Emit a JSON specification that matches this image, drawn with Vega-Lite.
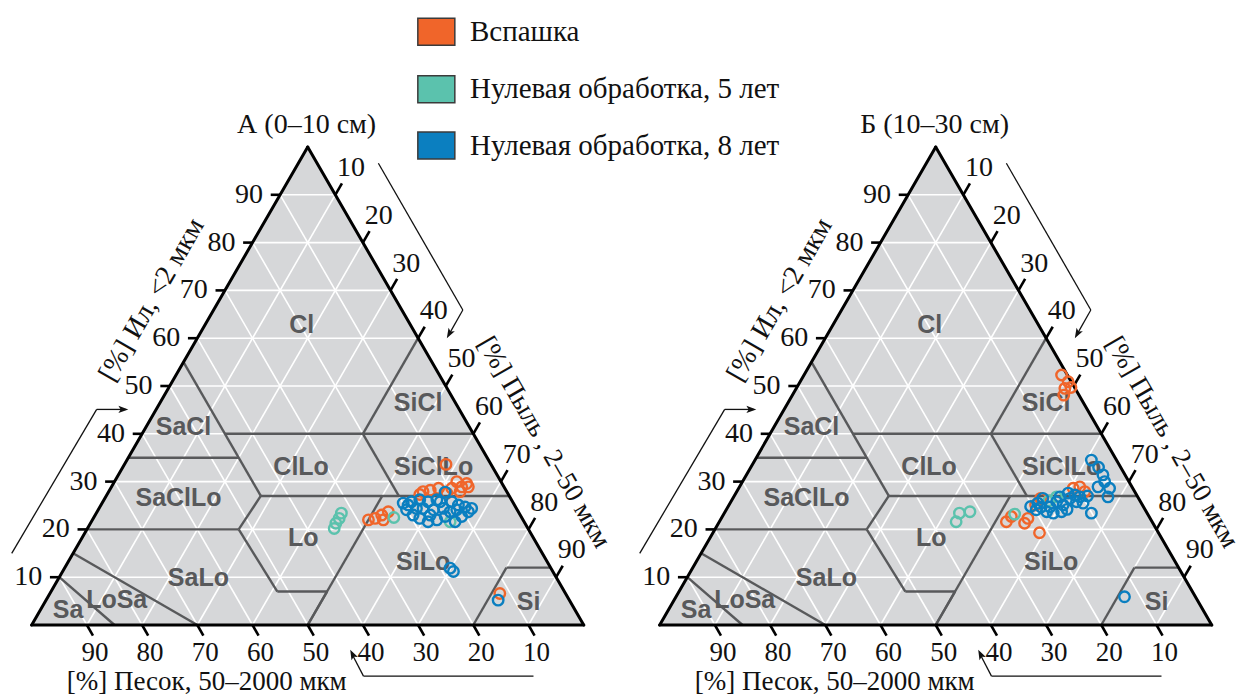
{
"$schema": "https://vega.github.io/schema/vega-lite/v6.json",
"padding": 0,
"spacing": 10,
"bounds": "flush",
"background": "white",
"config": {"view": {"stroke": null}},
"datasets": {
"tri": [{"x":0,"y":0},{"x":50,"y":100},{"x":100,"y":0}],
"edges": [{"x":0,"y":0,"x2":50,"y2":100},{"x":50,"y":100,"x2":100,"y2":0},{"x":0,"y":0,"x2":100,"y2":0}],
"grid": [
{"x":5,"y":10,"x2":95,"y2":10},{"x":10,"y":20,"x2":90,"y2":20},{"x":15,"y":30,"x2":85,"y2":30},{"x":20,"y":40,"x2":80,"y2":40},{"x":25,"y":50,"x2":75,"y2":50},{"x":30,"y":60,"x2":70,"y2":60},{"x":35,"y":70,"x2":65,"y2":70},{"x":40,"y":80,"x2":60,"y2":80},{"x":45,"y":90,"x2":55,"y2":90},
{"x":10,"y":0,"x2":55,"y2":90},{"x":20,"y":0,"x2":60,"y2":80},{"x":30,"y":0,"x2":65,"y2":70},{"x":40,"y":0,"x2":70,"y2":60},{"x":50,"y":0,"x2":75,"y2":50},{"x":60,"y":0,"x2":80,"y2":40},{"x":70,"y":0,"x2":85,"y2":30},{"x":80,"y":0,"x2":90,"y2":20},{"x":90,"y":0,"x2":95,"y2":10},
{"x":90,"y":0,"x2":45,"y2":90},{"x":80,"y":0,"x2":40,"y2":80},{"x":70,"y":0,"x2":35,"y2":70},{"x":60,"y":0,"x2":30,"y2":60},{"x":50,"y":0,"x2":25,"y2":50},{"x":40,"y":0,"x2":20,"y2":40},{"x":30,"y":0,"x2":15,"y2":30},{"x":20,"y":0,"x2":10,"y2":20},{"x":10,"y":0,"x2":5,"y2":10}
],
"bounds": [
{"x":5,"y":10,"x2":15,"y2":0},{"x":7.5,"y":15,"x2":30,"y2":0},{"x":10,"y":20,"x2":37.5,"y2":20},{"x":37.5,"y":20,"x2":44.5,"y2":7},{"x":44.5,"y":7,"x2":53.5,"y2":7},{"x":53.5,"y":7,"x2":50,"y2":0},{"x":50,"y":0,"x2":63.5,"y2":27},{"x":41.5,"y":27,"x2":86.5,"y2":27},{"x":41.5,"y":27,"x2":37.5,"y2":20},{"x":41.5,"y":27,"x2":27.5,"y2":55},{"x":17.5,"y":35,"x2":37.5,"y2":35},{"x":35,"y":40,"x2":80,"y2":40},{"x":66.5,"y":27,"x2":60,"y2":40},{"x":60,"y":40,"x2":70,"y2":60},{"x":80,"y":0,"x2":86,"y2":12},{"x":86,"y":12,"x2":94,"y2":12}
],
"ticks": [
{"axis":"clay","label":"10","x":5,"y":10,"x2":3.3,"y2":10,"lx":1.9,"ly":10},
{"axis":"clay","label":"20","x":10,"y":20,"x2":8.3,"y2":20,"lx":6.9,"ly":20},
{"axis":"clay","label":"30","x":15,"y":30,"x2":13.3,"y2":30,"lx":11.9,"ly":30},
{"axis":"clay","label":"40","x":20,"y":40,"x2":18.3,"y2":40,"lx":16.9,"ly":40},
{"axis":"clay","label":"50","x":25,"y":50,"x2":23.3,"y2":50,"lx":21.9,"ly":50},
{"axis":"clay","label":"60","x":30,"y":60,"x2":28.3,"y2":60,"lx":26.9,"ly":60},
{"axis":"clay","label":"70","x":35,"y":70,"x2":33.3,"y2":70,"lx":31.9,"ly":70},
{"axis":"clay","label":"80","x":40,"y":80,"x2":38.3,"y2":80,"lx":36.9,"ly":80},
{"axis":"clay","label":"90","x":45,"y":90,"x2":43.3,"y2":90,"lx":41.9,"ly":90},
{"axis":"silt","label":"10","x":55,"y":90,"x2":56.2,"y2":92.4,"lx":57.85,"ly":95.6},
{"axis":"silt","label":"20","x":60,"y":80,"x2":61.2,"y2":82.4,"lx":62.85,"ly":85.6},
{"axis":"silt","label":"30","x":65,"y":70,"x2":66.2,"y2":72.4,"lx":67.85,"ly":75.6},
{"axis":"silt","label":"40","x":70,"y":60,"x2":71.2,"y2":62.4,"lx":72.85,"ly":65.6},
{"axis":"silt","label":"50","x":75,"y":50,"x2":76.2,"y2":52.4,"lx":77.85,"ly":55.6},
{"axis":"silt","label":"60","x":80,"y":40,"x2":81.2,"y2":42.4,"lx":82.85,"ly":45.6},
{"axis":"silt","label":"70","x":85,"y":30,"x2":86.2,"y2":32.4,"lx":87.85,"ly":35.6},
{"axis":"silt","label":"80","x":90,"y":20,"x2":91.2,"y2":22.4,"lx":92.85,"ly":25.6},
{"axis":"silt","label":"90","x":95,"y":10,"x2":96.2,"y2":12.4,"lx":97.85,"ly":15.6},
{"axis":"sand","label":"90","x":10,"y":0,"x2":11.1,"y2":-2.2,"lx":11.45,"ly":-5.9},
{"axis":"sand","label":"80","x":20,"y":0,"x2":21.1,"y2":-2.2,"lx":21.45,"ly":-5.9},
{"axis":"sand","label":"70","x":30,"y":0,"x2":31.1,"y2":-2.2,"lx":31.45,"ly":-5.9},
{"axis":"sand","label":"60","x":40,"y":0,"x2":41.1,"y2":-2.2,"lx":41.45,"ly":-5.9},
{"axis":"sand","label":"50","x":50,"y":0,"x2":51.1,"y2":-2.2,"lx":51.45,"ly":-5.9},
{"axis":"sand","label":"40","x":60,"y":0,"x2":61.1,"y2":-2.2,"lx":61.45,"ly":-5.9},
{"axis":"sand","label":"30","x":70,"y":0,"x2":71.1,"y2":-2.2,"lx":71.45,"ly":-5.9},
{"axis":"sand","label":"20","x":80,"y":0,"x2":81.1,"y2":-2.2,"lx":81.45,"ly":-5.9},
{"axis":"sand","label":"10","x":90,"y":0,"x2":91.1,"y2":-2.2,"lx":91.45,"ly":-5.9}
],
"regions": [
{"t":"Cl","x":48.9,"y":62.8},{"t":"SiCl","x":70.0,"y":46.4},{"t":"SaCl","x":27.5,"y":41.5},{"t":"ClLo","x":48.8,"y":33.1},{"t":"SiClLo","x":72.8,"y":33.1},{"t":"SaClLo","x":26.6,"y":26.5},{"t":"Lo","x":49.2,"y":18.1},{"t":"SiLo","x":70.9,"y":13.2},{"t":"SaLo","x":30.2,"y":9.8},{"t":"LoSa","x":15.4,"y":5.2},{"t":"Sa","x":6.6,"y":3.1},{"t":"Si","x":90.0,"y":4.9}
],
"arrows": [
{"x":-3.62,"y":15.0,"x2":11.77,"y2":45.1},{"x":11.77,"y":45.1,"x2":17.0,"y2":45.1},
{"x":62.8,"y":96.6,"x2":78.1,"y2":65.9},{"x":78.1,"y":65.9,"x2":75.6,"y2":60.8},
{"x":90.9,"y":-10.7,"x2":60.1,"y2":-10.7},{"x":60.1,"y":-10.7,"x2":58.0,"y2":-6.0}
],
"heads": [
{"dir":"clay","x":17.5,"y":45.1},{"dir":"silt","x":75.2,"y":60.0},{"dir":"sand","x":57.7,"y":-5.2}
],
"atitles": [
{"kind":"clay","t":"[%] Ил, <2 мкм","x":21.8,"y":68.0},
{"kind":"silt","t":"[%] Пыль , 2–50 мкм","x":92.8,"y":38.2},
{"kind":"sand","t":"[%] Песок, 50–2000 мкм","x":31.7,"y":-11.95}
],
"ptitles": [
{"panel":"A","t":"А (0–10 см)","x":49.8,"y":104.6},
{"panel":"B","t":"Б (10–30 см)","x":49.8,"y":104.6}
],
"legend": [
{"grp":"Вспашка","x":73.3,"y":124.1,"tx":79.4},
{"grp":"Нулевая обработка, 5 лет","x":73.3,"y":112.1,"tx":79.4},
{"grp":"Нулевая обработка, 8 лет","x":73.3,"y":100.3,"tx":79.4}
],
"pts": [
{"panel":"A","grp":"Вспашка","x":75.05,"y":33.6},{"panel":"A","grp":"Вспашка","x":78.8,"y":29.6},{"panel":"A","grp":"Вспашка","x":77.9,"y":28.9},{"panel":"A","grp":"Вспашка","x":77.0,"y":30.0},{"panel":"A","grp":"Вспашка","x":76.1,"y":28.6},{"panel":"A","grp":"Вспашка","x":75.2,"y":27.6},{"panel":"A","grp":"Вспашка","x":73.7,"y":28.6},{"panel":"A","grp":"Вспашка","x":72.2,"y":28.2},{"panel":"A","grp":"Вспашка","x":70.9,"y":27.9},{"panel":"A","grp":"Вспашка","x":70.3,"y":27.3},{"panel":"A","grp":"Вспашка","x":77.6,"y":27.9},{"panel":"A","grp":"Вспашка","x":79.1,"y":28.9},{"panel":"A","grp":"Вспашка","x":61.0,"y":22.0},{"panel":"A","grp":"Вспашка","x":62.2,"y":22.3},{"panel":"A","grp":"Вспашка","x":63.4,"y":23.0},{"panel":"A","grp":"Вспашка","x":64.6,"y":23.7},{"panel":"A","grp":"Вспашка","x":63.7,"y":22.0},{"panel":"A","grp":"Вспашка","x":84.8,"y":6.6},
{"panel":"A","grp":"Нулевая обработка, 5 лет","x":56.1,"y":23.4},{"panel":"A","grp":"Нулевая обработка, 5 лет","x":55.7,"y":22.3},{"panel":"A","grp":"Нулевая обработка, 5 лет","x":55.1,"y":21.3},{"panel":"A","grp":"Нулевая обработка, 5 лет","x":54.8,"y":20.2},{"panel":"A","grp":"Нулевая обработка, 5 лет","x":65.6,"y":22.5},{"panel":"A","grp":"Нулевая обработка, 5 лет","x":75.8,"y":21.6},
{"panel":"A","grp":"Нулевая обработка, 8 лет","x":67.3,"y":25.5},{"panel":"A","grp":"Нулевая обработка, 8 лет","x":68.8,"y":25.8},{"panel":"A","grp":"Нулевая обработка, 8 лет","x":70.3,"y":26.2},{"panel":"A","grp":"Нулевая обработка, 8 лет","x":71.8,"y":25.8},{"panel":"A","grp":"Нулевая обработка, 8 лет","x":73.4,"y":26.2},{"panel":"A","grp":"Нулевая обработка, 8 лет","x":74.9,"y":27.8},{"panel":"A","grp":"Нулевая обработка, 8 лет","x":76.1,"y":25.8},{"panel":"A","grp":"Нулевая обработка, 8 лет","x":77.3,"y":25.1},{"panel":"A","grp":"Нулевая обработка, 8 лет","x":79.7,"y":24.4},{"panel":"A","grp":"Нулевая обработка, 8 лет","x":78.5,"y":24.7},{"panel":"A","grp":"Нулевая обработка, 8 лет","x":67.9,"y":24.1},{"panel":"A","grp":"Нулевая обработка, 8 лет","x":69.1,"y":23.0},{"panel":"A","grp":"Нулевая обработка, 8 лет","x":70.3,"y":22.3},{"panel":"A","grp":"Нулевая обработка, 8 лет","x":71.8,"y":21.6},{"panel":"A","grp":"Нулевая обработка, 8 лет","x":73.4,"y":22.0},{"panel":"A","grp":"Нулевая обработка, 8 лет","x":74.9,"y":22.7},{"panel":"A","grp":"Нулевая обработка, 8 лет","x":76.7,"y":21.6},{"panel":"A","grp":"Нулевая обработка, 8 лет","x":77.9,"y":22.7},{"panel":"A","grp":"Нулевая обработка, 8 лет","x":79.1,"y":23.7},{"panel":"A","grp":"Нулевая обработка, 8 лет","x":70.9,"y":24.4},{"panel":"A","grp":"Нулевая обработка, 8 лет","x":72.8,"y":24.1},{"panel":"A","grp":"Нулевая обработка, 8 лет","x":74.6,"y":24.4},{"panel":"A","grp":"Нулевая обработка, 8 лет","x":75.8,"y":23.7},{"panel":"A","grp":"Нулевая обработка, 8 лет","x":69.7,"y":24.4},{"panel":"A","grp":"Нулевая обработка, 8 лет","x":74.0,"y":25.8},{"panel":"A","grp":"Нулевая обработка, 8 лет","x":72.2,"y":23.0},{"panel":"A","grp":"Нулевая обработка, 8 лет","x":68.2,"y":25.1},{"panel":"A","grp":"Нулевая обработка, 8 лет","x":77.0,"y":24.1},{"panel":"A","grp":"Нулевая обработка, 8 лет","x":75.8,"y":11.9},{"panel":"A","grp":"Нулевая обработка, 8 лет","x":76.4,"y":11.2},{"panel":"A","grp":"Нулевая обработка, 8 лет","x":84.5,"y":5.2},
{"panel":"B","grp":"Вспашка","x":72.8,"y":52.3},{"panel":"B","grp":"Вспашка","x":74.0,"y":50.9},{"panel":"B","grp":"Вспашка","x":73.4,"y":49.5},{"panel":"B","grp":"Вспашка","x":74.5,"y":49.7},{"panel":"B","grp":"Вспашка","x":73.2,"y":48.1},{"panel":"B","grp":"Вспашка","x":62.8,"y":21.6},{"panel":"B","grp":"Вспашка","x":63.7,"y":22.7},{"panel":"B","grp":"Вспашка","x":66.1,"y":21.3},{"panel":"B","grp":"Вспашка","x":66.7,"y":22.3},{"panel":"B","grp":"Вспашка","x":68.8,"y":19.3},{"panel":"B","grp":"Вспашка","x":68.1,"y":25.1},{"panel":"B","grp":"Вспашка","x":69.0,"y":26.5},{"panel":"B","grp":"Вспашка","x":74.9,"y":28.6},{"panel":"B","grp":"Вспашка","x":76.1,"y":28.9},{"panel":"B","grp":"Вспашка","x":77.0,"y":27.9},
{"panel":"B","grp":"Нулевая обработка, 5 лет","x":54.3,"y":23.4},{"panel":"B","grp":"Нулевая обработка, 5 лет","x":56.2,"y":23.7},{"panel":"B","grp":"Нулевая обработка, 5 лет","x":53.7,"y":21.6},{"panel":"B","grp":"Нулевая обработка, 5 лет","x":64.3,"y":23.2},{"panel":"B","grp":"Нулевая обработка, 5 лет","x":71.9,"y":26.8},{"panel":"B","grp":"Нулевая обработка, 5 лет","x":70.5,"y":26.0},
{"panel":"B","grp":"Нулевая обработка, 8 лет","x":78.2,"y":34.5},{"panel":"B","grp":"Нулевая обработка, 8 лет","x":79.5,"y":33.0},{"panel":"B","grp":"Нулевая обработка, 8 лет","x":80.3,"y":31.4},{"panel":"B","grp":"Нулевая обработка, 8 лет","x":81.5,"y":28.6},{"panel":"B","grp":"Нулевая обработка, 8 лет","x":81.2,"y":26.8},{"panel":"B","grp":"Нулевая обработка, 8 лет","x":79.4,"y":28.9},{"panel":"B","grp":"Нулевая обработка, 8 лет","x":80.6,"y":30.0},{"panel":"B","grp":"Нулевая обработка, 8 лет","x":78.2,"y":23.4},{"panel":"B","grp":"Нулевая обработка, 8 лет","x":76.7,"y":25.5},{"panel":"B","grp":"Нулевая обработка, 8 лет","x":77.5,"y":27.0},{"panel":"B","grp":"Нулевая обработка, 8 лет","x":68.5,"y":25.5},{"panel":"B","grp":"Нулевая обработка, 8 лет","x":69.4,"y":26.5},{"panel":"B","grp":"Нулевая обработка, 8 лет","x":70.7,"y":24.7},{"panel":"B","grp":"Нулевая обработка, 8 лет","x":71.9,"y":25.8},{"panel":"B","grp":"Нулевая обработка, 8 лет","x":73.1,"y":25.1},{"panel":"B","grp":"Нулевая обработка, 8 лет","x":74.3,"y":26.5},{"panel":"B","grp":"Нулевая обработка, 8 лет","x":75.5,"y":25.8},{"panel":"B","grp":"Нулевая обработка, 8 лет","x":74.0,"y":27.6},{"panel":"B","grp":"Нулевая обработка, 8 лет","x":75.2,"y":27.2},{"panel":"B","grp":"Нулевая обработка, 8 лет","x":68.2,"y":24.1},{"panel":"B","grp":"Нулевая обработка, 8 лет","x":71.3,"y":23.4},{"panel":"B","grp":"Нулевая обработка, 8 лет","x":72.8,"y":23.7},{"panel":"B","grp":"Нулевая обработка, 8 лет","x":70.1,"y":23.7},{"panel":"B","grp":"Нулевая обработка, 8 лет","x":69.1,"y":24.7},{"panel":"B","grp":"Нулевая обработка, 8 лет","x":76.1,"y":26.8},{"panel":"B","grp":"Нулевая обработка, 8 лет","x":72.5,"y":26.8},{"panel":"B","grp":"Нулевая обработка, 8 лет","x":73.8,"y":24.2},{"panel":"B","grp":"Нулевая обработка, 8 лет","x":67.2,"y":24.8},{"panel":"B","grp":"Нулевая обработка, 8 лет","x":84.2,"y":5.9}
]
},
"hconcat": [
{
"width": 618, "height": 696,
"layer": [
{"data":{"name":"tri"},"mark":{"type":"area","color":"#d6d7d9","opacity":1},"encoding":{"x":{"field":"x","type":"quantitative","scale":{"domain":[-5.743,106.21],"nice":false,"zero":false},"axis":null},"y":{"field":"y","type":"quantitative","scale":{"domain":[-14.85,130.75],"nice":false,"zero":false},"axis":null},"y2":{"datum":0}}},
{"data":{"name":"grid"},"mark":{"type":"rule","color":"#ffffff","strokeWidth":1.6},"encoding":{"x":{"field":"x","type":"quantitative"},"y":{"field":"y","type":"quantitative"},"x2":{"field":"x2"},"y2":{"field":"y2"}}},
{"data":{"name":"bounds"},"mark":{"type":"rule","color":"#58595b","strokeWidth":2.4},"encoding":{"x":{"field":"x","type":"quantitative"},"y":{"field":"y","type":"quantitative"},"x2":{"field":"x2"},"y2":{"field":"y2"}}},
{"data":{"name":"edges"},"mark":{"type":"rule","color":"#000000","strokeWidth":3,"strokeCap":"round"},"encoding":{"x":{"field":"x","type":"quantitative"},"y":{"field":"y","type":"quantitative"},"x2":{"field":"x2"},"y2":{"field":"y2"}}},
{"data":{"name":"ticks"},"mark":{"type":"rule","color":"#000000","strokeWidth":2.6},"encoding":{"x":{"field":"x","type":"quantitative"},"y":{"field":"y","type":"quantitative"},"x2":{"field":"x2"},"y2":{"field":"y2"}}},
{"data":{"name":"ticks"},"transform":[{"filter":"datum.axis === 'clay'"}],"mark":{"type":"text","align":"right","baseline":"middle","font":"Liberation Serif","fontSize":28,"color":"#111111"},"encoding":{"x":{"field":"lx","type":"quantitative"},"y":{"field":"ly","type":"quantitative"},"text":{"field":"label"}}},
{"data":{"name":"ticks"},"transform":[{"filter":"datum.axis === 'silt'"}],"mark":{"type":"text","align":"center","baseline":"middle","font":"Liberation Serif","fontSize":28,"color":"#111111"},"encoding":{"x":{"field":"lx","type":"quantitative"},"y":{"field":"ly","type":"quantitative"},"text":{"field":"label"}}},
{"data":{"name":"ticks"},"transform":[{"filter":"datum.axis === 'sand'"}],"mark":{"type":"text","align":"center","baseline":"middle","font":"Liberation Serif","fontSize":27,"color":"#111111"},"encoding":{"x":{"field":"lx","type":"quantitative"},"y":{"field":"ly","type":"quantitative"},"text":{"field":"label"}}},
{"data":{"name":"regions"},"mark":{"type":"text","align":"center","baseline":"middle","font":"Liberation Sans","fontWeight":"bold","fontSize":25,"color":"#58595b"},"encoding":{"x":{"field":"x","type":"quantitative"},"y":{"field":"y","type":"quantitative"},"text":{"field":"t"}}},
{"data":{"name":"arrows"},"mark":{"type":"rule","color":"#111111","strokeWidth":1.3},"encoding":{"x":{"field":"x","type":"quantitative"},"y":{"field":"y","type":"quantitative"},"x2":{"field":"x2"},"y2":{"field":"y2"}}},
{"data":{"name":"heads"},"transform":[{"filter":"datum.dir === 'clay'"}],"mark":{"type":"point","shape":"M0,0L0.4,1.1L0,0.85L-0.4,1.1Z","angle":90,"filled":true,"color":"#111111","size":324,"opacity":1},"encoding":{"x":{"field":"x","type":"quantitative"},"y":{"field":"y","type":"quantitative"}}},
{"data":{"name":"heads"},"transform":[{"filter":"datum.dir === 'silt'"}],"mark":{"type":"point","shape":"M0,0L0.4,1.1L0,0.85L-0.4,1.1Z","angle":209.5,"filled":true,"color":"#111111","size":324,"opacity":1},"encoding":{"x":{"field":"x","type":"quantitative"},"y":{"field":"y","type":"quantitative"}}},
{"data":{"name":"heads"},"transform":[{"filter":"datum.dir === 'sand'"}],"mark":{"type":"point","shape":"M0,0L0.4,1.1L0,0.85L-0.4,1.1Z","angle":333,"filled":true,"color":"#111111","size":324,"opacity":1},"encoding":{"x":{"field":"x","type":"quantitative"},"y":{"field":"y","type":"quantitative"}}},
{"data":{"name":"atitles"},"transform":[{"filter":"datum.kind === 'clay'"}],"mark":{"type":"text","align":"center","baseline":"middle","angle":300,"font":"Liberation Serif","fontSize":28,"color":"#111111"},"encoding":{"x":{"field":"x","type":"quantitative"},"y":{"field":"y","type":"quantitative"},"text":{"field":"t"}}},
{"data":{"name":"atitles"},"transform":[{"filter":"datum.kind === 'silt'"}],"mark":{"type":"text","align":"center","baseline":"middle","angle":60,"font":"Liberation Serif","fontSize":27,"color":"#111111"},"encoding":{"x":{"field":"x","type":"quantitative"},"y":{"field":"y","type":"quantitative"},"text":{"field":"t"}}},
{"data":{"name":"atitles"},"transform":[{"filter":"datum.kind === 'sand'"}],"mark":{"type":"text","align":"center","baseline":"middle","font":"Liberation Serif","fontSize":27,"color":"#111111"},"encoding":{"x":{"field":"x","type":"quantitative"},"y":{"field":"y","type":"quantitative"},"text":{"field":"t"}}},
{"data":{"name":"ptitles"},"transform":[{"filter":"datum.panel === 'A'"}],"mark":{"type":"text","align":"center","baseline":"middle","font":"Liberation Serif","fontSize":28,"color":"#111111"},"encoding":{"x":{"field":"x","type":"quantitative"},"y":{"field":"y","type":"quantitative"},"text":{"field":"t"}}},
{"data":{"name":"pts"},"transform":[{"filter":"datum.panel === 'A'"}],"mark":{"type":"point","shape":"circle","filled":false,"strokeWidth":2.4,"size":110,"opacity":1},"encoding":{"x":{"field":"x","type":"quantitative"},"y":{"field":"y","type":"quantitative"},"color":{"field":"grp","type":"nominal","scale":{"domain":["Вспашка","Нулевая обработка, 5 лет","Нулевая обработка, 8 лет"],"range":["#f0652a","#5bc2ad","#0b7fc0"]},"legend":null}}},
{"data":{"name":"legend"},"mark":{"type":"point","shape":"M-1,-0.73H1V0.73H-1Z","filled":true,"size":1369,"stroke":"#3b3b3b","strokeWidth":1.5,"opacity":1},"encoding":{"x":{"field":"x","type":"quantitative"},"y":{"field":"y","type":"quantitative"},"color":{"field":"grp","type":"nominal","scale":{"domain":["Вспашка","Нулевая обработка, 5 лет","Нулевая обработка, 8 лет"],"range":["#f0652a","#5bc2ad","#0b7fc0"]},"legend":null}}},
{"data":{"name":"legend"},"mark":{"type":"text","align":"left","baseline":"middle","font":"Liberation Serif","fontSize":29,"color":"#111111"},"encoding":{"x":{"field":"tx","type":"quantitative"},"y":{"field":"y","type":"quantitative"},"text":{"field":"grp"}}}
]
},
{
"width": 618, "height": 696,
"layer": [
{"data":{"name":"tri"},"mark":{"type":"area","color":"#d6d7d9","opacity":1},"encoding":{"x":{"field":"x","type":"quantitative","scale":{"domain":[-5.743,106.21],"nice":false,"zero":false},"axis":null},"y":{"field":"y","type":"quantitative","scale":{"domain":[-14.85,130.75],"nice":false,"zero":false},"axis":null},"y2":{"datum":0}}},
{"data":{"name":"grid"},"mark":{"type":"rule","color":"#ffffff","strokeWidth":1.6},"encoding":{"x":{"field":"x","type":"quantitative"},"y":{"field":"y","type":"quantitative"},"x2":{"field":"x2"},"y2":{"field":"y2"}}},
{"data":{"name":"bounds"},"mark":{"type":"rule","color":"#58595b","strokeWidth":2.4},"encoding":{"x":{"field":"x","type":"quantitative"},"y":{"field":"y","type":"quantitative"},"x2":{"field":"x2"},"y2":{"field":"y2"}}},
{"data":{"name":"edges"},"mark":{"type":"rule","color":"#000000","strokeWidth":3,"strokeCap":"round"},"encoding":{"x":{"field":"x","type":"quantitative"},"y":{"field":"y","type":"quantitative"},"x2":{"field":"x2"},"y2":{"field":"y2"}}},
{"data":{"name":"ticks"},"mark":{"type":"rule","color":"#000000","strokeWidth":2.6},"encoding":{"x":{"field":"x","type":"quantitative"},"y":{"field":"y","type":"quantitative"},"x2":{"field":"x2"},"y2":{"field":"y2"}}},
{"data":{"name":"ticks"},"transform":[{"filter":"datum.axis === 'clay'"}],"mark":{"type":"text","align":"right","baseline":"middle","font":"Liberation Serif","fontSize":28,"color":"#111111"},"encoding":{"x":{"field":"lx","type":"quantitative"},"y":{"field":"ly","type":"quantitative"},"text":{"field":"label"}}},
{"data":{"name":"ticks"},"transform":[{"filter":"datum.axis === 'silt'"}],"mark":{"type":"text","align":"center","baseline":"middle","font":"Liberation Serif","fontSize":28,"color":"#111111"},"encoding":{"x":{"field":"lx","type":"quantitative"},"y":{"field":"ly","type":"quantitative"},"text":{"field":"label"}}},
{"data":{"name":"ticks"},"transform":[{"filter":"datum.axis === 'sand'"}],"mark":{"type":"text","align":"center","baseline":"middle","font":"Liberation Serif","fontSize":27,"color":"#111111"},"encoding":{"x":{"field":"lx","type":"quantitative"},"y":{"field":"ly","type":"quantitative"},"text":{"field":"label"}}},
{"data":{"name":"regions"},"mark":{"type":"text","align":"center","baseline":"middle","font":"Liberation Sans","fontWeight":"bold","fontSize":25,"color":"#58595b"},"encoding":{"x":{"field":"x","type":"quantitative"},"y":{"field":"y","type":"quantitative"},"text":{"field":"t"}}},
{"data":{"name":"arrows"},"mark":{"type":"rule","color":"#111111","strokeWidth":1.3},"encoding":{"x":{"field":"x","type":"quantitative"},"y":{"field":"y","type":"quantitative"},"x2":{"field":"x2"},"y2":{"field":"y2"}}},
{"data":{"name":"heads"},"transform":[{"filter":"datum.dir === 'clay'"}],"mark":{"type":"point","shape":"M0,0L0.4,1.1L0,0.85L-0.4,1.1Z","angle":90,"filled":true,"color":"#111111","size":324,"opacity":1},"encoding":{"x":{"field":"x","type":"quantitative"},"y":{"field":"y","type":"quantitative"}}},
{"data":{"name":"heads"},"transform":[{"filter":"datum.dir === 'silt'"}],"mark":{"type":"point","shape":"M0,0L0.4,1.1L0,0.85L-0.4,1.1Z","angle":209.5,"filled":true,"color":"#111111","size":324,"opacity":1},"encoding":{"x":{"field":"x","type":"quantitative"},"y":{"field":"y","type":"quantitative"}}},
{"data":{"name":"heads"},"transform":[{"filter":"datum.dir === 'sand'"}],"mark":{"type":"point","shape":"M0,0L0.4,1.1L0,0.85L-0.4,1.1Z","angle":333,"filled":true,"color":"#111111","size":324,"opacity":1},"encoding":{"x":{"field":"x","type":"quantitative"},"y":{"field":"y","type":"quantitative"}}},
{"data":{"name":"atitles"},"transform":[{"filter":"datum.kind === 'clay'"}],"mark":{"type":"text","align":"center","baseline":"middle","angle":300,"font":"Liberation Serif","fontSize":28,"color":"#111111"},"encoding":{"x":{"field":"x","type":"quantitative"},"y":{"field":"y","type":"quantitative"},"text":{"field":"t"}}},
{"data":{"name":"atitles"},"transform":[{"filter":"datum.kind === 'silt'"}],"mark":{"type":"text","align":"center","baseline":"middle","angle":60,"font":"Liberation Serif","fontSize":27,"color":"#111111"},"encoding":{"x":{"field":"x","type":"quantitative"},"y":{"field":"y","type":"quantitative"},"text":{"field":"t"}}},
{"data":{"name":"atitles"},"transform":[{"filter":"datum.kind === 'sand'"}],"mark":{"type":"text","align":"center","baseline":"middle","font":"Liberation Serif","fontSize":27,"color":"#111111"},"encoding":{"x":{"field":"x","type":"quantitative"},"y":{"field":"y","type":"quantitative"},"text":{"field":"t"}}},
{"data":{"name":"ptitles"},"transform":[{"filter":"datum.panel === 'B'"}],"mark":{"type":"text","align":"center","baseline":"middle","font":"Liberation Serif","fontSize":28,"color":"#111111"},"encoding":{"x":{"field":"x","type":"quantitative"},"y":{"field":"y","type":"quantitative"},"text":{"field":"t"}}},
{"data":{"name":"pts"},"transform":[{"filter":"datum.panel === 'B'"}],"mark":{"type":"point","shape":"circle","filled":false,"strokeWidth":2.4,"size":110,"opacity":1},"encoding":{"x":{"field":"x","type":"quantitative"},"y":{"field":"y","type":"quantitative"},"color":{"field":"grp","type":"nominal","scale":{"domain":["Вспашка","Нулевая обработка, 5 лет","Нулевая обработка, 8 лет"],"range":["#f0652a","#5bc2ad","#0b7fc0"]},"legend":null}}}
]
}
]
}
